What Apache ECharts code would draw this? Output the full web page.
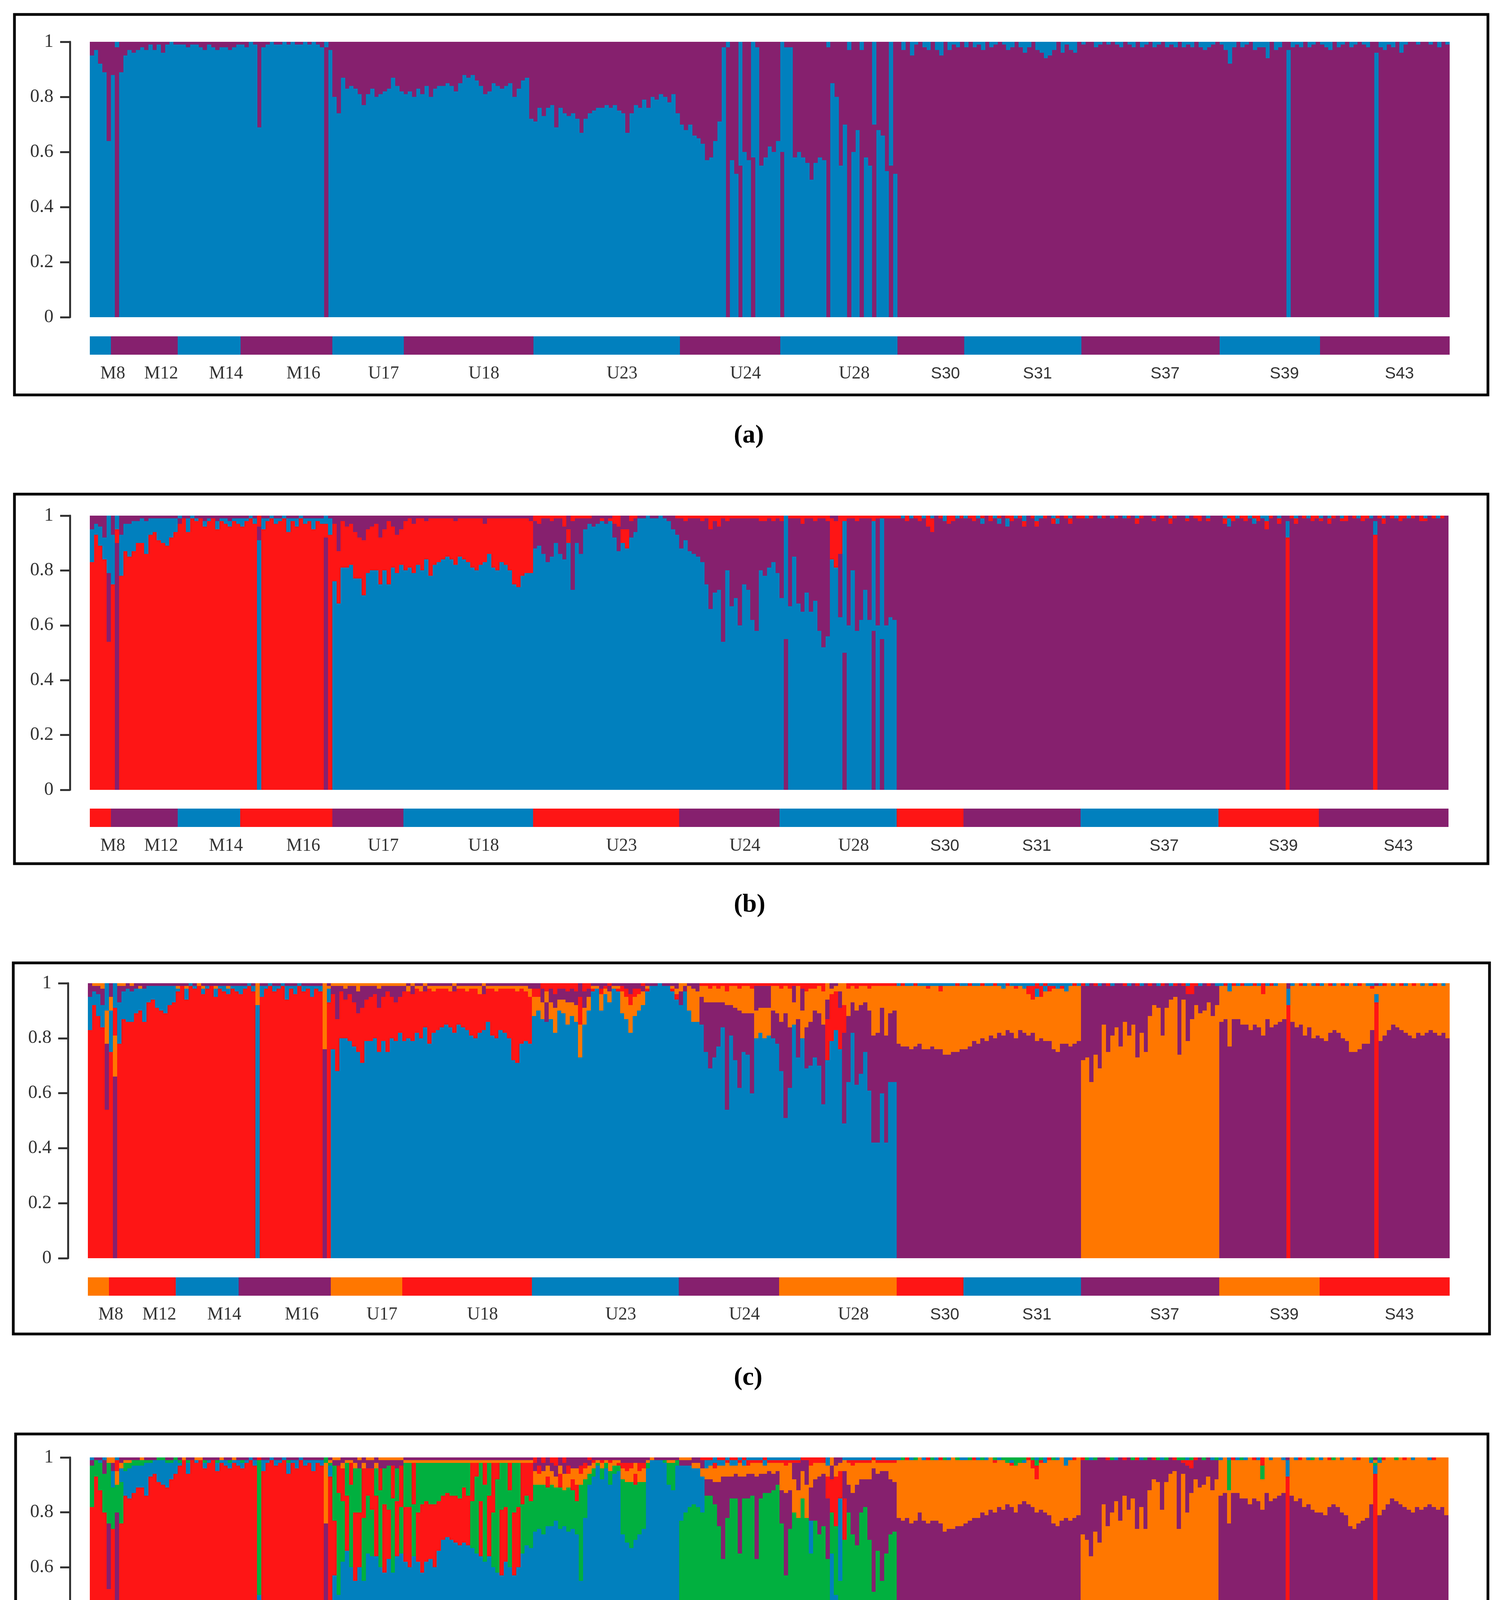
<!DOCTYPE html>
<html>
<head>
<meta charset="utf-8">
<script src="https://cdn.jsdelivr.net/npm/echarts@6/dist/echarts.min.js"></script>
<style>
  html, body { margin: 0; padding: 0; background: #fff; }
  #chart { width: 3846px; height: 4795px; }
</style>
</head>
<body>
<div id="chart"></div>
<script>
// populations, left to right, and how many individuals (bars) each one has
const popNames = ['M8', 'M12', 'M14', 'M16', 'U17', 'U18', 'U23', 'U24', 'U28', 'S30', 'S31', 'S37', 'S39', 'S43'];
const popSizes = [5, 16, 15, 22, 17, 31, 35, 24, 28, 16, 28, 33, 24, 31];

const yTicks = [0, 0.2, 0.4, 0.6, 0.8, 1];

// colour of the population strip under each panel
const stripA = ['blue', 'purple', 'blue', 'purple', 'blue', 'purple', 'blue', 'purple', 'blue', 'purple', 'blue', 'purple', 'blue', 'purple'];
const stripB = ['red', 'purple', 'blue', 'red', 'purple', 'blue', 'red', 'purple', 'blue', 'red', 'purple', 'blue', 'red', 'purple'];
const stripC = ['orange', 'red', 'blue', 'purple', 'orange', 'red', 'blue', 'purple', 'orange', 'red', 'blue', 'purple', 'orange', 'red'];
const stripD = ['green', 'purple', 'orange', 'blue', 'red', 'green', 'purple', 'orange', 'blue', 'red', 'green', 'purple', 'orange', 'blue'];

// membership (%) per individual; the cluster not listed for a panel (purple) is the remainder
// (a) K = 2
const aBlue = [
  95, 97, 92, 89, 64,
  88, 2, 89, 95, 97, 96, 97, 98, 97, 99, 97, 99, 96, 99, 100, 99,
  99, 99, 98, 99, 99, 98, 97, 99, 98, 97, 98, 98, 97, 98, 99,
  99, 98, 100, 99, 69, 98, 99, 100, 99, 99, 100, 99, 100, 99, 99, 100, 99, 100, 99, 98, 2, 97,
  80, 74, 87, 83, 84, 83, 81, 77, 81, 83, 80, 81, 82, 83, 87, 84, 82,
  81, 82, 80, 83, 81, 84, 80, 83, 84, 84, 85, 84, 82, 85, 88, 87, 88, 86, 84, 81, 82, 85, 84, 83, 84, 85, 80, 83, 86, 87, 72,
  71, 76, 73, 76, 77, 69, 76, 74, 73, 74, 72, 67, 72, 74, 75, 76, 76, 77, 76, 77, 75, 74, 67, 74, 77, 76, 79, 76, 80, 79, 81, 80, 78, 81, 74,
  70, 68, 70, 66, 65, 63, 57, 58, 64, 71, 98, 2, 57, 52, 45, 60, 57, 42, 98, 55, 58, 62, 60, 64,
  40, 98, 98, 58, 60, 58, 56, 50, 56, 58, 57, 2, 85, 80, 55, 70, 3, 60, 68, 3, 58, 55, 30, 68, 66, 53, 45, 52,
  0, 3, 0, 5, 1, 0, 2, 3, 0, 3, 5, 0, 3, 1, 2, 0,
  2, 0, 2, 1, 3, 0, 2, 1, 0, 1, 3, 2, 0, 2, 4, 2, 0, 3, 4, 6, 5, 3, 0, 4, 1, 3, 4, 0,
  1, 0, 0, 2, 1, 0, 1, 0, 1, 2, 0, 1, 2, 0, 2, 1, 0, 2, 1, 0, 2, 1, 2, 0, 2, 1, 2, 0, 2, 3, 2, 1, 0,
  1, 3, 8, 2, 0, 2, 1, 0, 3, 2, 2, 6, 0, 3, 2, 0, 97, 2, 1, 2, 0, 2, 1, 0,
  1, 2, 3, 0, 2, 1, 0, 2, 1, 0, 1, 2, 0, 96, 2, 3, 1, 2, 0, 4, 1, 0, 0, 1, 0, 0, 1, 0, 2, 0, 1
];

// (b) K = 3
const bRed = [
  83, 93, 89, 84, 54,
  75, 5, 78, 87, 85, 87, 90, 90, 86, 93, 94, 91, 90, 89, 92, 94,
  97, 99, 94, 99, 98, 99, 96, 98, 99, 95, 98, 97, 96, 98, 97,
  96, 98, 99, 97, 4, 95, 98, 99, 97, 98, 99, 94, 98, 96, 99, 97, 98, 95, 98, 97, 5, 93,
  21, 19, 17, 15, 15, 17, 15, 20, 16, 16, 17, 17, 15, 23, 15, 14, 13,
  18, 18, 18, 17, 19, 14, 21, 17, 16, 15, 14, 15, 16, 14, 15, 16, 18, 19, 17, 14, 13, 18, 19, 16, 17, 19, 24, 25, 21, 20, 19,
  2, 3, 1, 1, 2, 1, 1, 4, 5, 2, 1, 1, 1, 1, 0, 0, 1, 0, 1, 3, 4, 5, 7, 2, 1, 0, 0, 0, 0, 0, 0, 0, 0, 0, 1,
  1, 2, 1, 1, 1, 2, 1, 5, 2, 4, 1, 2, 1, 1, 1, 1, 1, 1, 1, 2, 2, 1, 2, 1,
  2, 0, 1, 1, 1, 3, 1, 1, 2, 1, 1, 2, 15, 17, 14, 2, 1, 1, 2, 1, 1, 1, 2, 1, 1, 1, 1, 1,
  1, 0, 2, 0, 1, 2, 0, 4, 5, 0, 1, 0, 3, 2, 0, 1,
  0, 1, 2, 0, 1, 0, 2, 0, 1, 0, 1, 2, 0, 1, 2, 0, 1, 2, 0, 1, 0, 2, 1, 0, 1, 2, 0, 1,
  1, 0, 1, 0, 0, 1, 0, 0, 1, 0, 0, 1, 0, 2, 1, 0, 0, 1, 0, 1, 0, 2, 1, 0, 0, 1, 0, 1, 2, 0, 1, 0, 0,
  0, 2, 1, 2, 0, 1, 2, 0, 1, 2, 0, 3, 1, 0, 2, 0, 92, 1, 2, 0, 1, 0, 2, 1,
  1, 0, 2, 1, 0, 1, 2, 0, 1, 0, 2, 1, 0, 93, 1, 2, 0, 1, 0, 2, 1, 0, 1, 0, 2, 1, 0, 1, 0, 1, 0
];
const bBlue = [
  12, 4, 7, 8, 21,
  18, 5, 15, 10, 12, 11, 8, 9, 12, 6, 5, 8, 9, 10, 7, 5,
  1, 0, 5, 1, 1, 0, 2, 1, 0, 3, 1, 2, 2, 1, 2,
  3, 1, 1, 2, 91, 4, 1, 1, 2, 1, 1, 5, 1, 3, 1, 2, 1, 4, 1, 2, 3, 6,
  76, 68, 81, 81, 82, 77, 77, 71, 79, 80, 80, 75, 80, 75, 81, 79, 82,
  80, 81, 79, 82, 80, 84, 78, 82, 83, 84, 85, 84, 82, 85, 84, 83, 81, 80, 82, 83, 86, 81, 80, 83, 82, 80, 75, 74, 78, 79, 79,
  88, 89, 86, 83, 85, 90, 86, 84, 90, 73, 90, 86, 95, 97, 96, 97, 98, 97, 98, 92, 87, 90, 88, 92, 94, 99, 99, 100, 99, 99, 100, 99, 98, 95, 93,
  88, 91, 87, 86, 85, 83, 75, 66, 72, 73, 54, 80, 67, 70, 60, 75, 73, 62, 58, 80, 78, 81, 83, 79,
  70, 45, 67, 85, 68, 65, 72, 65, 69, 58, 52, 56, 84, 81, 63, 48, 60, 80, 58, 62, 73, 62, 40, 60, 44, 60, 63, 62,
  0, 1, 0, 1, 0, 0, 1, 0, 1, 0, 0, 2, 0, 0, 1, 0,
  1, 0, 0, 1, 2, 0, 0, 1, 2, 0, 3, 0, 1, 0, 2, 0, 0, 2, 1, 0, 0, 1, 2, 0, 0, 1, 0, 0,
  0, 1, 0, 0, 1, 0, 0, 1, 0, 0, 1, 0, 0, 1, 0, 0, 0, 1, 0, 0, 0, 1, 0, 0, 0, 1, 0, 0, 0, 0, 1, 0, 0,
  0, 1, 3, 0, 1, 0, 0, 1, 2, 0, 1, 2, 0, 0, 1, 0, 6, 0, 1, 0, 0, 1, 0, 0,
  1, 0, 1, 0, 0, 1, 0, 0, 0, 1, 0, 0, 1, 5, 0, 1, 0, 0, 1, 0, 0, 1, 0, 0, 0, 1, 0, 0, 1, 0, 0
];

// (c) K = 4
const cRed = [
  83, 92, 88, 84, 54,
  75, 10, 78, 87, 86, 86, 89, 90, 86, 93, 94, 91, 90, 89, 92, 93,
  97, 99, 94, 99, 98, 99, 96, 98, 99, 95, 98, 97, 96, 98, 97,
  96, 98, 99, 97, 0, 95, 98, 99, 97, 98, 99, 94, 98, 96, 99, 97, 98, 95, 98, 97, 0, 93,
  20, 19, 17, 14, 17, 16, 14, 20, 15, 16, 16, 16, 16, 22, 15, 14, 13,
  18, 17, 17, 16, 17, 13, 20, 15, 15, 14, 13, 13, 15, 13, 14, 14, 17, 18, 14, 13, 12, 17, 17, 15, 16, 18, 26, 26, 20, 18, 17,
  3, 3, 2, 3, 2, 4, 2, 2, 3, 2, 3, 10, 3, 2, 1, 0, 2, 1, 1, 0, 1, 2, 3, 4, 3, 2, 1, 1, 0, 0, 0, 0, 0, 1, 2,
  0, 0, 0, 0, 0, 1, 1, 2, 1, 2, 1, 3, 1, 1, 2, 1, 1, 2, 1, 1, 1, 1, 1, 1,
  2, 1, 2, 1, 1, 2, 3, 2, 2, 1, 3, 15, 17, 14, 15, 10, 2, 1, 2, 1, 1, 2, 1, 1, 1, 1, 1, 1,
  0, 1, 0, 0, 1, 0, 0, 1, 0, 0, 2, 0, 0, 0, 1, 0,
  0, 1, 0, 0, 1, 0, 0, 1, 0, 0, 1, 0, 1, 0, 0, 3, 5, 2, 4, 1, 2, 1, 0, 1, 0, 0, 1, 0,
  1, 0, 0, 1, 0, 0, 1, 0, 0, 0, 1, 0, 0, 1, 0, 0, 1, 0, 0, 1, 0, 0, 1, 0, 1, 3, 4, 1, 0, 0, 1, 0, 0,
  0, 1, 0, 1, 0, 1, 0, 0, 1, 0, 4, 0, 1, 0, 0, 0, 92, 0, 0, 1, 0, 0, 0, 1,
  0, 0, 1, 0, 0, 1, 0, 0, 0, 1, 0, 0, 1, 93, 0, 1, 0, 0, 0, 1, 0, 0, 1, 0, 0, 0, 0, 1, 0, 0, 0
];
const cBlue = [
  12, 5, 8, 8, 10,
  15, 9, 15, 10, 12, 11, 9, 8, 12, 6, 5, 8, 9, 10, 7, 6,
  1, 0, 4, 1, 1, 0, 2, 1, 0, 3, 1, 2, 2, 1, 2,
  3, 1, 1, 2, 92, 4, 1, 1, 2, 1, 1, 5, 1, 3, 1, 2, 1, 4, 1, 2, 0, 5,
  76, 68, 80, 80, 79, 77, 75, 71, 79, 79, 80, 75, 79, 75, 80, 79, 82,
  79, 80, 79, 82, 80, 84, 78, 82, 83, 84, 85, 84, 82, 85, 84, 83, 81, 80, 82, 83, 86, 81, 80, 83, 82, 80, 72, 71, 78, 79, 78,
  88, 90, 87, 86, 87, 82, 90, 89, 85, 88, 86, 73, 85, 90, 97, 98, 90, 96, 93, 98, 97, 89, 87, 82, 88, 90, 92, 97, 99, 99, 100, 99, 99, 97, 94,
  92, 97, 90, 86, 86, 85, 75, 69, 73, 77, 84, 54, 81, 72, 62, 75, 74, 60, 80, 82, 80, 81, 80, 78,
  68, 51, 62, 85, 73, 80, 69, 70, 73, 70, 56, 72, 79, 83, 76, 49, 64, 82, 63, 67, 75, 61, 42, 42, 60, 42, 64, 64,
  1, 0, 1, 1, 0, 1, 1, 1, 1, 1, 1, 1, 1, 1, 0, 1,
  1, 0, 1, 1, 0, 1, 1, 0, 1, 2, 0, 1, 1, 1, 2, 1, 1, 3, 1, 2, 1, 1, 2, 1, 3, 1, 0, 1,
  0, 1, 0, 0, 1, 0, 0, 1, 0, 0, 0, 1, 0, 0, 1, 0, 0, 0, 1, 0, 0, 1, 0, 0, 0, 1, 0, 0, 1, 0, 0, 0, 1,
  1, 0, 3, 0, 1, 0, 1, 1, 0, 1, 0, 1, 0, 1, 0, 0, 6, 1, 0, 0, 1, 0, 1, 0,
  1, 0, 0, 1, 0, 0, 1, 0, 1, 0, 0, 1, 1, 3, 1, 0, 0, 1, 0, 0, 1, 0, 0, 0, 1, 0, 1, 0, 0, 1, 0
];
const cOrange = [
  0, 1, 1, 2, 12,
  5, 15, 1, 1, 0, 1, 0, 1, 0, 0, 0, 0, 0, 0, 0, 0,
  1, 0, 1, 0, 0, 1, 1, 0, 0, 1, 0, 0, 1, 0, 0,
  0, 0, 0, 0, 8, 0, 0, 0, 0, 0, 0, 0, 0, 0, 0, 0, 0, 0, 0, 0, 24, 1,
  1, 1, 1, 2, 1, 1, 3, 1, 1, 1, 1, 2, 1, 1, 1, 1, 1,
  1, 2, 1, 1, 2, 1, 1, 2, 1, 1, 1, 2, 1, 1, 1, 2, 1, 1, 3, 1, 1, 1, 2, 1, 1, 1, 1, 2, 1, 2, 3,
  7, 5, 6, 4, 6, 9, 4, 5, 8, 5, 6, 12, 6, 5, 1, 1, 6, 2, 4, 1, 1, 8, 8, 10, 7, 6, 5, 1, 0, 0, 0, 0, 0, 1, 2,
  3, 1, 9, 12, 11, 4, 6, 5, 6, 5, 6, 5, 7, 8, 8, 10, 10, 9, 10, 9, 11, 10, 9, 10,
  12, 10, 14, 8, 12, 10, 13, 12, 8, 10, 12, 6, 2, 2, 3, 8, 10, 6, 8, 7, 6, 8, 18, 17, 8, 18, 10, 9,
  21, 22, 22, 23, 22, 21, 23, 22, 22, 23, 21, 25, 25, 24, 24, 23,
  23, 22, 20, 21, 19, 20, 18, 19, 17, 17, 16, 17, 18, 16, 16, 15, 12, 16, 15, 18, 18, 22, 23, 20, 19, 22, 21, 20,
  72, 73, 64, 74, 69, 85, 75, 81, 84, 77, 86, 81, 85, 73, 82, 75, 88, 92, 91, 81, 91, 94, 95, 74, 94, 79, 87, 92, 89, 90, 93, 88, 92,
  13, 12, 20, 12, 12, 14, 14, 16, 14, 15, 15, 12, 15, 14, 14, 13, 0, 13, 16, 14, 18, 16, 19, 18,
  19, 21, 17, 16, 18, 19, 20, 25, 24, 23, 22, 21, 15, 3, 20, 18, 17, 14, 16, 16, 17, 19, 19, 18, 18, 18, 16, 17, 19, 17, 20
];

// (d) K = 5
const dRed = [
  82, 93, 88, 80, 52,
  74, 4, 76, 86, 85, 87, 89, 89, 86, 93, 94, 91, 90, 89, 92, 94,
  97, 99, 94, 99, 98, 99, 96, 98, 99, 95, 98, 97, 96, 98, 97,
  96, 98, 99, 97, 1, 95, 98, 99, 97, 98, 99, 94, 98, 96, 99, 97, 98, 95, 98, 97, 0, 93,
  20, 10, 12, 20, 8, 25, 20, 18, 10, 15, 22, 8, 25, 18, 12, 20, 15,
  20, 22, 15, 18, 25, 22, 20, 23, 18, 16, 16, 16, 17, 17, 20, 18, 14, 5, 20, 8, 22, 18, 6, 24, 20, 10, 23, 22, 15, 12, 14,
  2, 3, 2, 4, 2, 3, 5, 2, 3, 4, 6, 3, 2, 1, 1, 0, 1, 0, 1, 0, 1, 2, 3, 2, 4, 3, 2, 0, 0, 0, 0, 0, 0, 0, 0,
  0, 0, 0, 0, 0, 1, 1, 1, 2, 1, 1, 1, 1, 1, 1, 1, 2, 1, 1, 1, 1, 1, 1, 1,
  1, 2, 1, 1, 1, 1, 1, 3, 2, 2, 2, 8, 12, 18, 10, 15, 1, 2, 1, 1, 1, 1, 1, 1, 1, 1, 1, 1,
  0, 0, 1, 0, 0, 0, 0, 1, 0, 0, 1, 0, 0, 0, 0, 0,
  0, 0, 1, 0, 0, 0, 0, 1, 0, 0, 0, 1, 0, 0, 0, 1, 3, 5, 1, 0, 1, 0, 0, 0, 0, 0, 1, 0,
  1, 0, 0, 0, 0, 0, 1, 0, 0, 0, 1, 0, 0, 1, 0, 0, 0, 1, 0, 0, 0, 0, 1, 0, 1, 2, 3, 1, 0, 0, 0, 0, 0,
  0, 0, 0, 1, 0, 0, 0, 0, 1, 0, 3, 0, 0, 0, 0, 0, 93, 0, 0, 1, 0, 0, 0, 0,
  0, 0, 1, 0, 0, 0, 0, 0, 0, 1, 0, 0, 0, 94, 0, 1, 0, 0, 0, 0, 1, 0, 0, 0, 0, 0, 0, 1, 0, 0, 0
];
const dBlue = [
  1, 0, 1, 1, 0,
  6, 1, 5, 9, 11, 10, 8, 8, 12, 5, 5, 8, 9, 9, 6, 5,
  1, 0, 4, 0, 1, 0, 2, 1, 0, 3, 1, 2, 2, 1, 2,
  2, 1, 1, 2, 50, 4, 1, 1, 2, 1, 1, 4, 1, 3, 1, 2, 1, 4, 1, 2, 0, 4,
  57, 50, 62, 66, 60, 55, 60, 55, 65, 64, 64, 60, 58, 63, 58, 64, 65,
  62, 60, 64, 62, 58, 62, 63, 60, 66, 70, 71, 70, 69, 68, 69, 68, 67, 65, 64, 62, 64, 60, 58, 57, 62, 60, 57, 60, 65, 68, 67,
  73, 74, 72, 75, 75, 77, 74, 75, 73, 74, 72, 55, 78, 90, 93, 97, 92, 96, 90, 94, 95, 72, 69, 67, 70, 72, 74, 96, 99, 99, 99, 98, 90, 88, 97,
  20, 17, 15, 13, 14, 13, 3, 2, 2, 2, 2, 1, 2, 2, 1, 2, 1, 1, 1, 1, 2, 1, 1, 1,
  1, 1, 1, 1, 1, 0, 0, 12, 0, 0, 0, 3, 65, 50, 30, 1, 1, 1, 1, 1, 1, 1, 0, 1, 1, 1, 1, 1,
  1, 0, 0, 1, 0, 0, 1, 0, 0, 1, 0, 0, 1, 0, 0, 1,
  1, 0, 0, 1, 0, 1, 0, 0, 1, 0, 0, 1, 0, 0, 1, 0, 0, 1, 0, 2, 0, 0, 1, 0, 3, 1, 0, 0,
  0, 0, 1, 0, 0, 0, 0, 0, 1, 0, 0, 0, 0, 0, 1, 0, 0, 0, 0, 1, 0, 0, 0, 0, 0, 1, 0, 0, 0, 0, 0, 1, 0,
  1, 0, 1, 0, 1, 0, 1, 0, 0, 1, 0, 0, 1, 0, 0, 1, 6, 0, 1, 0, 0, 1, 0, 0,
  1, 0, 0, 0, 0, 1, 0, 0, 1, 0, 0, 0, 1, 3, 1, 0, 0, 0, 0, 0, 0, 0, 1, 0, 0, 0, 1, 0, 0, 0, 0
];
const dGreen = [
  15, 6, 10, 14, 22,
  15, 10, 15, 3, 2, 2, 2, 2, 1, 1, 0, 1, 1, 1, 1, 1,
  1, 0, 1, 0, 0, 0, 1, 0, 0, 1, 0, 0, 1, 0, 0,
  1, 0, 0, 0, 49, 0, 0, 0, 0, 0, 0, 1, 0, 0, 0, 0, 0, 0, 0, 0, 2, 1,
  20, 37, 22, 12, 30, 16, 16, 23, 21, 17, 10, 28, 13, 16, 27, 12, 17,
  16, 16, 19, 18, 15, 14, 15, 15, 14, 12, 11, 12, 12, 13, 9, 12, 17, 28, 14, 28, 12, 20, 34, 17, 16, 28, 18, 16, 18, 18, 17,
  17, 16, 18, 14, 15, 12, 15, 13, 16, 14, 12, 35, 14, 4, 3, 1, 4, 2, 5, 3, 2, 20, 22, 24, 20, 19, 17, 2, 0, 0, 0, 1, 8, 10, 2,
  77, 80, 82, 83, 82, 80, 86, 86, 83, 75, 63, 78, 85, 85, 65, 85, 85, 86, 63, 85, 87, 87, 88, 90,
  76, 57, 74, 80, 78, 85, 78, 65, 77, 72, 75, 63, 15, 25, 55, 70, 80, 72, 68, 80, 82, 70, 51, 66, 55, 65, 72, 73,
  0, 1, 0, 0, 1, 0, 0, 0, 1, 0, 0, 1, 0, 0, 1, 0,
  0, 1, 0, 0, 1, 0, 0, 1, 0, 1, 2, 1, 3, 2, 1, 0, 1, 2, 1, 0, 0, 1, 0, 0, 0, 0, 0, 0,
  0, 1, 0, 1, 0, 0, 0, 1, 0, 0, 0, 0, 1, 0, 0, 1, 0, 0, 1, 0, 1, 0, 0, 1, 1, 0, 1, 0, 0, 1, 0, 0, 1,
  0, 0, 11, 0, 0, 1, 0, 0, 0, 0, 5, 0, 0, 0, 0, 0, 0, 0, 0, 0, 0, 0, 1, 0,
  0, 0, 0, 1, 0, 0, 0, 0, 0, 0, 0, 0, 1, 1, 1, 0, 0, 0, 1, 0, 0, 0, 0, 0, 0, 0, 0, 0, 0, 0, 0
];
const dOrange = [
  0, 0, 0, 0, 2,
  2, 5, 2, 1, 1, 0, 0, 1, 0, 0, 0, 0, 0, 0, 0, 0,
  0, 1, 0, 0, 1, 1, 0, 0, 0, 0, 1, 0, 0, 1, 0,
  0, 0, 0, 0, 0, 0, 0, 0, 0, 0, 0, 0, 0, 0, 0, 0, 0, 0, 0, 0, 22, 1,
  1, 1, 2, 1, 1, 2, 1, 2, 1, 1, 2, 1, 1, 1, 1, 1, 1,
  1, 1, 1, 1, 1, 1, 1, 1, 1, 1, 1, 1, 1, 1, 1, 1, 1, 1, 1, 1, 1, 1, 1, 1, 1, 1, 1, 1, 1, 1, 1,
  5, 4, 5, 4, 5, 4, 3, 6, 5, 4, 6, 4, 4, 3, 2, 1, 2, 1, 3, 2, 1, 4, 4, 5, 4, 4, 5, 1, 1, 0, 0, 0, 1, 1, 0,
  1, 1, 1, 2, 2, 3, 4, 5, 5, 6, 4, 5, 4, 3, 5, 4, 3, 4, 5, 4, 3, 3, 4, 3,
  10, 10, 10, 12, 10, 10, 12, 8, 6, 5, 4, 4, 3, 4, 3, 4, 8, 10, 8, 6, 6, 6, 3, 4, 3, 3, 6, 7,
  21, 22, 21, 23, 22, 20, 22, 23, 22, 22, 23, 26, 25, 26, 24, 24,
  23, 22, 21, 21, 19, 20, 19, 18, 17, 18, 15, 15, 17, 15, 14, 16, 14, 12, 17, 18, 20, 23, 24, 23, 19, 22, 21, 21,
  72, 70, 64, 73, 69, 83, 75, 80, 84, 77, 86, 81, 85, 74, 82, 74, 88, 92, 91, 81, 91, 94, 95, 74, 94, 80, 87, 92, 89, 90, 93, 88, 92,
  13, 13, 12, 12, 12, 14, 14, 17, 14, 15, 11, 13, 15, 15, 14, 12, 0, 14, 15, 14, 18, 16, 18, 20,
  19, 21, 17, 16, 18, 19, 21, 25, 25, 23, 23, 22, 15, 1, 19, 18, 17, 15, 15, 17, 17, 19, 19, 18, 19, 18, 16, 17, 19, 18, 21
];

const colors = {
  blue: '#0180be',
  purple: '#86206e',
  red: '#fe1515',
  orange: '#ff7700',
  green: '#01b03f'
};

const panels = [
  { letter: 'a', comps: [['blue', aBlue]], rest: 'purple', strip: stripA },
  { letter: 'b', comps: [['red', bRed], ['blue', bBlue]], rest: 'purple', strip: stripB },
  { letter: 'c', comps: [['red', cRed], ['blue', cBlue], ['orange', cOrange]], rest: 'purple', strip: stripC },
  { letter: 'd', comps: [['red', dRed], ['blue', dBlue], ['green', dGreen], ['orange', dOrange]], rest: 'purple', strip: stripD }
];

// page layout in pixels: frame [x, y, w, h], plot left/right/top/bottom, strip top, caption centre
const layout = [
  { frame: [37, 37, 3773, 974], left: 230, right: 3712, top: 107, bottom: 812, strip: 861, caption: 1116 },
  { frame: [37, 1265, 3773, 946], left: 230, right: 3709, top: 1320, bottom: 2022, strip: 2070, caption: 2317 },
  { frame: [34, 2465, 3780, 950], left: 225, right: 3712, top: 2517, bottom: 3221, strip: 3270, caption: 3528 },
  { frame: [40, 3671, 3770, 959], left: 230, right: 3709, top: 3731, bottom: 4434, strip: 4483, caption: 4742 }
];
const PAGE_W = 3846, PAGE_H = 4795;
const STRIP_H = 47;

const total = popSizes.reduce((s, n) => s + n, 0);
const groups = [];
popSizes.reduce((start, n, k) => { groups.push([start, start + n, k]); return start + n; }, 0);
const idx = Array.from({ length: total }, (_, i) => i);

// per individual: shares as fractions, largest share first (drawn at the bottom)
function buildStacks(comps, rest) {
  comps.forEach(([name, arr]) => {
    if (arr.length !== total) throw new Error(name + ' has ' + arr.length + ' values, expected ' + total);
  });
  const stacks = [];
  for (let i = 0; i < total; i++) {
    const parts = comps.map(([c, arr]) => ({ c, v: arr[i] }));
    const used = parts.reduce((s, p) => s + p.v, 0);
    parts.push({ c: rest, v: Math.max(0, 100 - used) });
    const sum = parts.reduce((s, p) => s + p.v, 0);
    parts.forEach(p => { p.v = p.v / sum; });
    parts.sort((p, q) => q.v - p.v);
    stacks.push(parts);
  }
  return stacks;
}

const grid = [], xAxis = [], yAxis = [], series = [], title = [], graphic = [];

panels.forEach((pn, p) => {
  const L = layout[p];
  const gPlot = 2 * p, gStrip = 2 * p + 1;

  grid.push({ left: L.left, width: L.right - L.left, top: L.top, height: L.bottom - L.top });
  grid.push({ left: L.left, width: L.right - L.left, top: L.strip, height: STRIP_H });

  xAxis.push({ type: 'category', gridIndex: gPlot, data: idx, boundaryGap: true, show: false });
  yAxis.push({
    type: 'value', gridIndex: gPlot, min: yTicks[0], max: yTicks[yTicks.length - 1], interval: 0.2,
    offset: 51,
    axisLine: { show: true, lineStyle: { color: '#333', width: 5 } },
    axisTick: { show: true, length: 25, lineStyle: { color: '#333', width: 5 } },
    axisLabel: {
      margin: 42, fontFamily: 'Liberation Serif', fontSize: 48, color: '#333',
      formatter: v => String(+v.toFixed(1))
    },
    splitLine: { show: false }
  });

  xAxis.push({ type: 'value', gridIndex: gStrip, min: 0, max: total, show: false });
  yAxis.push({ type: 'value', gridIndex: gStrip, min: 0, max: 1, show: false });

  // stacked membership bars; edges snapped to whole pixels so neighbours meet without seams
  const stacks = buildStacks(pn.comps, pn.rest);
  series.push({
    type: 'custom', xAxisIndex: gPlot, yAxisIndex: gPlot,
    data: stacks.map((parts, i) => [i].concat(parts.map(q => q.v))),
    encode: { x: 0, y: 1 },
    renderItem: (params, api) => {
      const i = api.value(0);
      const parts = stacks[i];
      const bw = api.size([1, 0])[0];
      const cx = api.coord([i, 0])[0];
      const x0 = Math.round(cx - bw / 2), x1 = Math.round(cx + bw / 2);
      const children = [];
      let cum = 0;
      parts.forEach(q => {
        if (q.v <= 0) return;
        const yb = Math.round(api.coord([i, cum])[1]);
        cum += q.v;
        const yt = Math.round(api.coord([i, Math.min(1, cum)])[1]);
        if (yb - yt <= 0) return;
        children.push({
          type: 'rect',
          shape: { x: x0, y: yt, width: x1 - x0, height: yb - yt },
          style: { fill: colors[q.c] }
        });
      });
      return { type: 'group', children };
    }
  });

  const strip = pn.strip;
  series.push({
    type: 'custom', xAxisIndex: gStrip, yAxisIndex: gStrip, clip: false,
    data: groups,
    renderItem: (params, api) => {
      const s = api.value(0), e = api.value(1), k = api.value(2);
      const p0 = api.coord([s, 1]);
      const p1 = api.coord([e, 0]);
      const mid = api.coord([(s + e) / 2, 0]);
      const name = popNames[k];
      const font = name[0] === 'S' ? '42px "Liberation Sans"' : '46px "Liberation Serif"';
      const x0 = Math.round(p0[0]), x1 = Math.round(p1[0]);
      return {
        type: 'group',
        children: [
          { type: 'rect', shape: { x: x0, y: Math.round(p0[1]), width: x1 - x0, height: Math.round(p1[1] - p0[1]) },
            style: { fill: colors[strip[k]] } },
          { type: 'text', x: mid[0], y: mid[1] + 49,
            style: { text: name, font, fill: '#333', align: 'left', textAlign: 'left',
                     verticalAlign: 'middle', textVerticalAlign: 'middle' } }
        ]
      };
    }
  });

  const f = L.frame;
  graphic.push({
    type: 'rect', silent: true, z: 10,
    shape: { x: f[0], y: f[1], width: f[2], height: f[3] },
    style: { fill: 'transparent', stroke: '#000', lineWidth: 7 }
  });

  title.push({
    text: '{p|(}{b|' + pn.letter + '}{p|)}',
    left: 1912 - 38, top: L.caption - 38,
    textStyle: {
      rich: {
        p: { fontFamily: 'Liberation Serif', fontSize: 66, color: '#000' },
        b: { fontFamily: 'Liberation Serif', fontSize: 66, fontWeight: 'bold', color: '#000' }
      }
    }
  });
});

const chart = echarts.init(document.getElementById('chart'), null, { width: PAGE_W, height: PAGE_H });
chart.setOption({
  animation: false,
  backgroundColor: '#ffffff',
  title, grid, xAxis, yAxis, series, graphic
});
</script>
</body>
</html>
